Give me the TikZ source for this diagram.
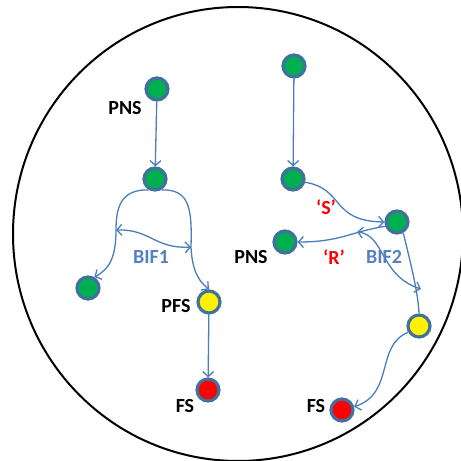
\documentclass[tikz,border=0pt]{standalone}
\usepackage{fontspec}
\setmainfont{Carlito}
\usetikzlibrary{positioning,arrows.meta}
\definecolor{nodeedge}{HTML}{41719C}
\definecolor{nodegreen}{HTML}{00B050}
\definecolor{linkblue}{HTML}{4A7EBB}
\definecolor{bifblue}{HTML}{5581BF}

\tikzset{
  cell/.style={circle, draw=nodeedge, line width=3.2pt, minimum size=22pt, inner sep=0pt},
  gcell/.style={cell, fill=nodegreen},
  ycell/.style={cell, fill=yellow},
  rcell/.style={cell, fill=red},
  link/.style={draw=linkblue, line width=1.3pt, -{Straight Barb[length=5pt,width=11pt]}},
  dlink/.style={link, {Straight Barb[length=5pt,width=11pt]}-{Straight Barb[length=5pt,width=11pt]}},
  tag/.style={font=\fontsize{20}{22}\selectfont\bfseries, inner sep=0pt},
}

\begin{document}
\begin{tikzpicture}[x=1pt, y=1pt]
  \useasboundingbox (0,0) rectangle (461,461);
  \clip (0,0) rectangle (461,461);
  \draw[line width=2pt] (238,227) ellipse [x radius=225, y radius=227];

  % left branch
  \node[gcell] (a1) at (157,372) {};
  \node[gcell] (a2) at (155,282) {};
  \node[gcell] (a3) at (88,173) {};
  \node[ycell] (pfs) at (209,159) {};
  \node[rcell] (fsa) at (208,71) {};
  \node[tag] (pnsa) at (125,353) {PNS};
  \node[tag, bifblue] (bif1) at (151,204) {BIF1};
  \node[tag] (pfsl) at (176,155) {PFS};
  \node[tag] (fsal) at (185,55) {FS};
  \coordinate (bif1l) at (116,231);
  \coordinate (bif1r) at (191,214);

  \draw[link] (a1) -- (a2);
  \draw[link] (a2.240) .. controls (120,272) and (116,252) .. (bif1l)
    .. controls (116,205) and (110,192) .. (a3.60);
  \draw[link] (a2.300) .. controls (190,272) and (192,252) .. (bif1r)
    .. controls (192,195) and (196,182) .. (pfs.north);
  \draw[dlink] (bif1l) .. controls (150,232) and (155,212) .. (bif1r);
  \draw[link] (pfs) -- (fsa);

  % right branch
  \node[gcell] (b1) at (294,395) {};
  \node[gcell] (b2) at (293,282) {};
  \node[gcell] (b3) at (397,239) {};
  \node[gcell] (b4) at (285,219) {};
  \node[ycell] (b5) at (419,135) {};
  \node[rcell] (b6) at (342,51) {};
  \node[tag] (pnsb) at (251,204) {PNS};
  \node[tag, red] (sl) at (326,254) {‘S’};
  \node[tag, red] (rl) at (334,204) {‘R’};
  \node[tag, bifblue] (bif2) at (384,204) {BIF2};
  \node[tag] (fsbl) at (316,55) {FS};
  \coordinate (bif2l) at (357,229);
  \coordinate (bif2r) at (421,172);

  \draw[link] (b1) -- (b2);
  \draw[link] (b2.-15) .. controls (345,272) and (330,240) .. (b3.west);
  \draw[link] (b3.200) .. controls (350,229) and (340,219) .. (b4.east);
  \draw[dlink] (bif2l) .. controls (385,226) and (380,185) .. (bif2r);
  \draw[draw=linkblue, line width=1.3pt] (b3.-60) .. controls (410,200) and (418,170) .. (b5.north);
  \draw[link] (b5.210) .. controls (375,115) and (395,68) .. (b6.15);
\end{tikzpicture}
\end{document}
